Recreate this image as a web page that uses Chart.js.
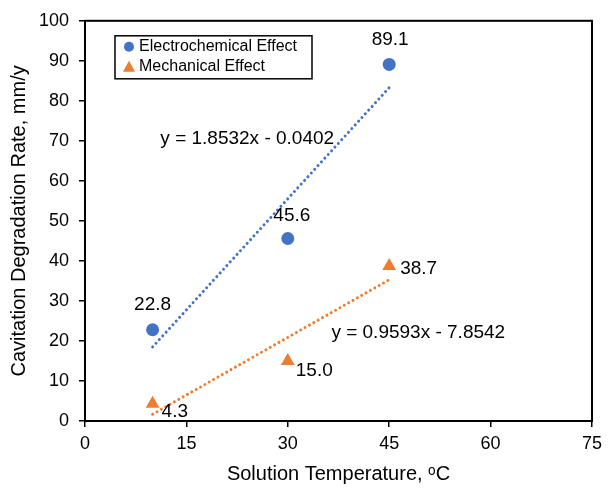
<!DOCTYPE html>
<html>
<head>
<meta charset="utf-8">
<title>Cavitation Degradation Rate</title>
<script src="https://cdn.jsdelivr.net/npm/chart.js@4.4.1/dist/chart.umd.min.js"></script>
<style>
  html, body { margin: 0; padding: 0; background: #fff; }
  #wrap { width: 610px; height: 489px; }
</style>
</head>
<body>
<div id="wrap"><canvas id="chart"></canvas></div>
<script>
// Data
const temperatures = [10, 30, 45];
const electroRates = [22.8, 45.6, 89.1];
const mechRates = [4.3, 15.0, 38.7];

// Trendline end points (x = 10 and x = 45)
const trendX = [10, 45];
const electroTrend = [18.5, 83.3];
const mechTrend = [1.7, 35.3];

const xTicks = [0, 15, 30, 45, 60, 75];
const yTicks = [0, 10, 20, 30, 40, 50, 60, 70, 80, 90, 100];

const seriesNames = ["Electrochemical Effect", "Mechanical Effect"];
const equations = ["y = 1.8532x - 0.0402", "y = 0.9593x - 7.8542"];

const BLUE = "#4472C4";
const ORANGE = "#ED7D31";
const FONT = "'Liberation Sans', Arial, sans-serif";

// label placement (pixels relative to point)
const labelOffsets = [
  [[0, -25, "center"], [4, -23, "center"], [1, -25, "center"]],
  [[9, 8, "left"], [8, 10, "left"], [11, 3, "left"]]
];
// equation anchors in data units
const equationPos = [[24.0, 70.5], [49.3, 22.1]];

function toPoints(xs, ys) {
  return xs.map((x, i) => ({ x: x, y: ys[i] }));
}

// Frame, legend, data labels and equations
const overlayPlugin = {
  id: "overlay",
  afterDraw(chart) {
    const { ctx, chartArea: a, scales } = chart;
    ctx.save();

    // box around plot area
    ctx.strokeStyle = "#000";
    ctx.lineWidth = 2;
    ctx.strokeRect(a.left, a.top, a.right - a.left, a.bottom - a.top);

    // data labels
    ctx.fillStyle = "#000";
    ctx.font = "19px " + FONT;
    ctx.textBaseline = "middle";
    [electroRates, mechRates].forEach((vals, ds) => {
      const meta = chart.getDatasetMeta(ds);
      meta.data.forEach((pt, i) => {
        const off = labelOffsets[ds][i];
        ctx.textAlign = off[2];
        ctx.fillText(vals[i].toFixed(1), pt.x + off[0], pt.y + off[1]);
      });
    });

    // trendline equations
    ctx.textAlign = "center";
    equations.forEach((eq, i) => {
      const px = scales.x.getPixelForValue(equationPos[i][0]);
      const py = scales.y.getPixelForValue(equationPos[i][1]);
      ctx.fillText(eq, px, py);
    });

    // legend box
    const lx = a.left + 30, ly = a.top + 15, lw = 197, lh = 43;
    ctx.fillStyle = "#fff";
    ctx.fillRect(lx, ly, lw, lh);
    ctx.strokeStyle = "#000";
    ctx.lineWidth = 1.5;
    ctx.strokeRect(lx, ly, lw, lh);

    ctx.fillStyle = BLUE;
    ctx.beginPath();
    ctx.arc(lx + 14, ly + 11, 5, 0, Math.PI * 2);
    ctx.fill();

    ctx.fillStyle = ORANGE;
    ctx.beginPath();
    ctx.moveTo(lx + 14, ly + 25);
    ctx.lineTo(lx + 20, ly + 36);
    ctx.lineTo(lx + 8, ly + 36);
    ctx.closePath();
    ctx.fill();

    ctx.fillStyle = "#000";
    ctx.font = "16px " + FONT;
    ctx.textAlign = "left";
    ctx.fillText(seriesNames[0], lx + 24, ly + 11);
    ctx.fillText(seriesNames[1], lx + 24, ly + 31);

    ctx.restore();
  }
};

const ctx = document.getElementById("chart").getContext("2d");

new Chart(ctx, {
  type: "scatter",
  data: {
    datasets: [
      {
        label: seriesNames[0],
        data: toPoints(temperatures, electroRates),
        backgroundColor: BLUE,
        borderColor: BLUE,
        pointStyle: "circle",
        pointRadius: 6.5,
        pointBorderWidth: 0
      },
      {
        label: seriesNames[1],
        data: toPoints(temperatures, mechRates),
        backgroundColor: ORANGE,
        borderColor: ORANGE,
        pointStyle: "triangle",
        pointRadius: 8,
        pointBorderWidth: 0
      },
      {
        label: "Electrochemical trend",
        data: toPoints(trendX, electroTrend),
        showLine: true,
        borderColor: BLUE,
        borderWidth: 3,
        borderDash: [0.01, 5],
        borderCapStyle: "round",
        pointRadius: 0,
        fill: false
      },
      {
        label: "Mechanical trend",
        data: toPoints(trendX, mechTrend),
        showLine: true,
        borderColor: ORANGE,
        borderWidth: 3,
        borderDash: [0.01, 5],
        borderCapStyle: "round",
        pointRadius: 0,
        fill: false
      }
    ]
  },
  options: {
    responsive: true,
    maintainAspectRatio: false,
    animation: false,
    layout: {
      padding: { top: 19, right: 18, left: 0, bottom: 0 }
    },
    plugins: {
      legend: { display: false },
      tooltip: { enabled: false }
    },
    scales: {
      x: {
        type: "linear",
        min: 0,
        max: 75,
        afterBuildTicks: s => { s.ticks = xTicks.map(v => ({ value: v })); },
        afterFit: s => { s.height = 68; },
        grid: {
          drawOnChartArea: false,
          drawTicks: true,
          tickLength: 6,
          color: "#000",
          lineWidth: 1.5
        },
        border: { color: "#000", width: 2 },
        ticks: {
          color: "#000",
          padding: 6,
          maxRotation: 0,
          font: { family: FONT, size: 18 }
        },
        title: {
          display: true,
          text: "Solution Temperature, ᵒC",
          color: "#000",
          padding: { top: 0, bottom: 3 },
          font: { family: FONT, size: 20 }
        }
      },
      y: {
        type: "linear",
        min: 0,
        max: 100,
        afterBuildTicks: s => { s.ticks = yTicks.map(v => ({ value: v })); },
        afterFit: s => { s.width = 85; },
        grid: {
          drawOnChartArea: false,
          drawTicks: true,
          tickLength: 6,
          color: "#000",
          lineWidth: 1.5
        },
        border: { color: "#000", width: 2 },
        ticks: {
          color: "#000",
          padding: 10,
          font: { family: FONT, size: 18 }
        },
        title: {
          display: true,
          text: "Cavitation Degradation Rate, mm/y",
          color: "#000",
          padding: { top: 7, bottom: 0 },
          font: { family: FONT, size: 20 }
        }
      }
    }
  },
  plugins: [overlayPlugin]
});
</script>
</body>
</html>
